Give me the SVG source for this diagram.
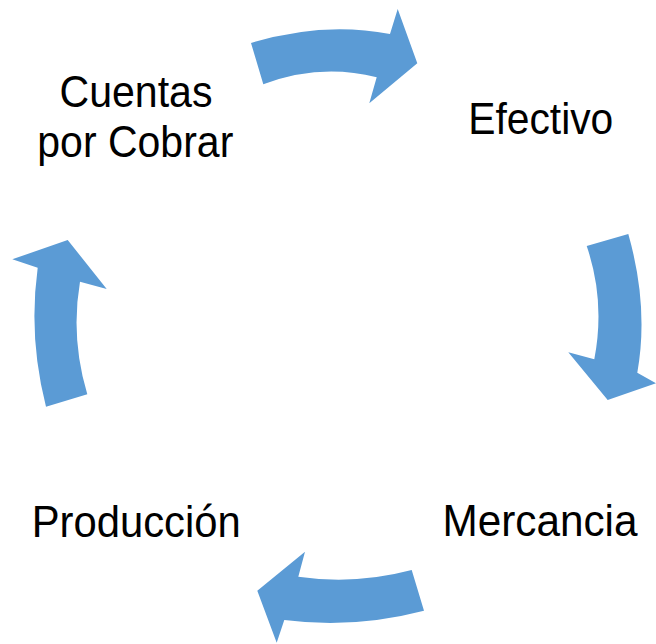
<svg xmlns="http://www.w3.org/2000/svg" width="656" height="644" viewBox="0 0 656 644">
<style>
.lbl{font-family:"Liberation Sans",Arial,sans-serif;font-size:45px;fill:#000;text-anchor:middle}
.arr{fill:#5B9BD5;stroke:none}
</style>
<rect width="656" height="644" fill="#fff"/>
<g id="connectors">
<path class="arr" d="M251,43 Q323,21 390,34 L397.7,9 L417.3,63.3 L369.3,103.3 L376.7,77.3 Q320,63 263.3,84.3 Z"/>
<path class="arr" d="M586.7,246 L628.3,234 Q649,307 637.3,372.7 L656,383.3 L607.7,400 L568.3,352.3 L594.3,359.3 Q605.5,301 586.7,246 Z"/>
<path class="arr" d="M411.7,570 L424,610.7 Q354,629 284.3,620 L276.7,642.7 L257.3,590.7 L305,551.7 L298.3,576.7 Q355,585 411.7,570 Z"/>
<path class="arr" d="M46,406.7 L87.3,394.3 Q70.4,338 80,281.7 L106.7,289 L67.7,240 L12.3,259.3 L37.7,267.7 Q28.2,337 46,406.7 Z"/>
</g>
<g id="node-cuentas">
<text class="lbl"><tspan x="136" y="107" textLength="153" lengthAdjust="spacingAndGlyphs">Cuentas</tspan><tspan x="135.3" y="157" textLength="196" lengthAdjust="spacingAndGlyphs">por Cobrar</tspan></text>
</g>
<g id="node-efectivo">
<text class="lbl" x="540.8" y="134" textLength="145" lengthAdjust="spacingAndGlyphs">Efectivo</text>
</g>
<g id="node-mercancia">
<text class="lbl" x="540" y="536" textLength="195" lengthAdjust="spacingAndGlyphs">Mercancia</text>
</g>
<g id="node-produccion">
<text class="lbl" x="136.2" y="536.5" textLength="209" lengthAdjust="spacingAndGlyphs">Producción</text>
</g>
</svg>
